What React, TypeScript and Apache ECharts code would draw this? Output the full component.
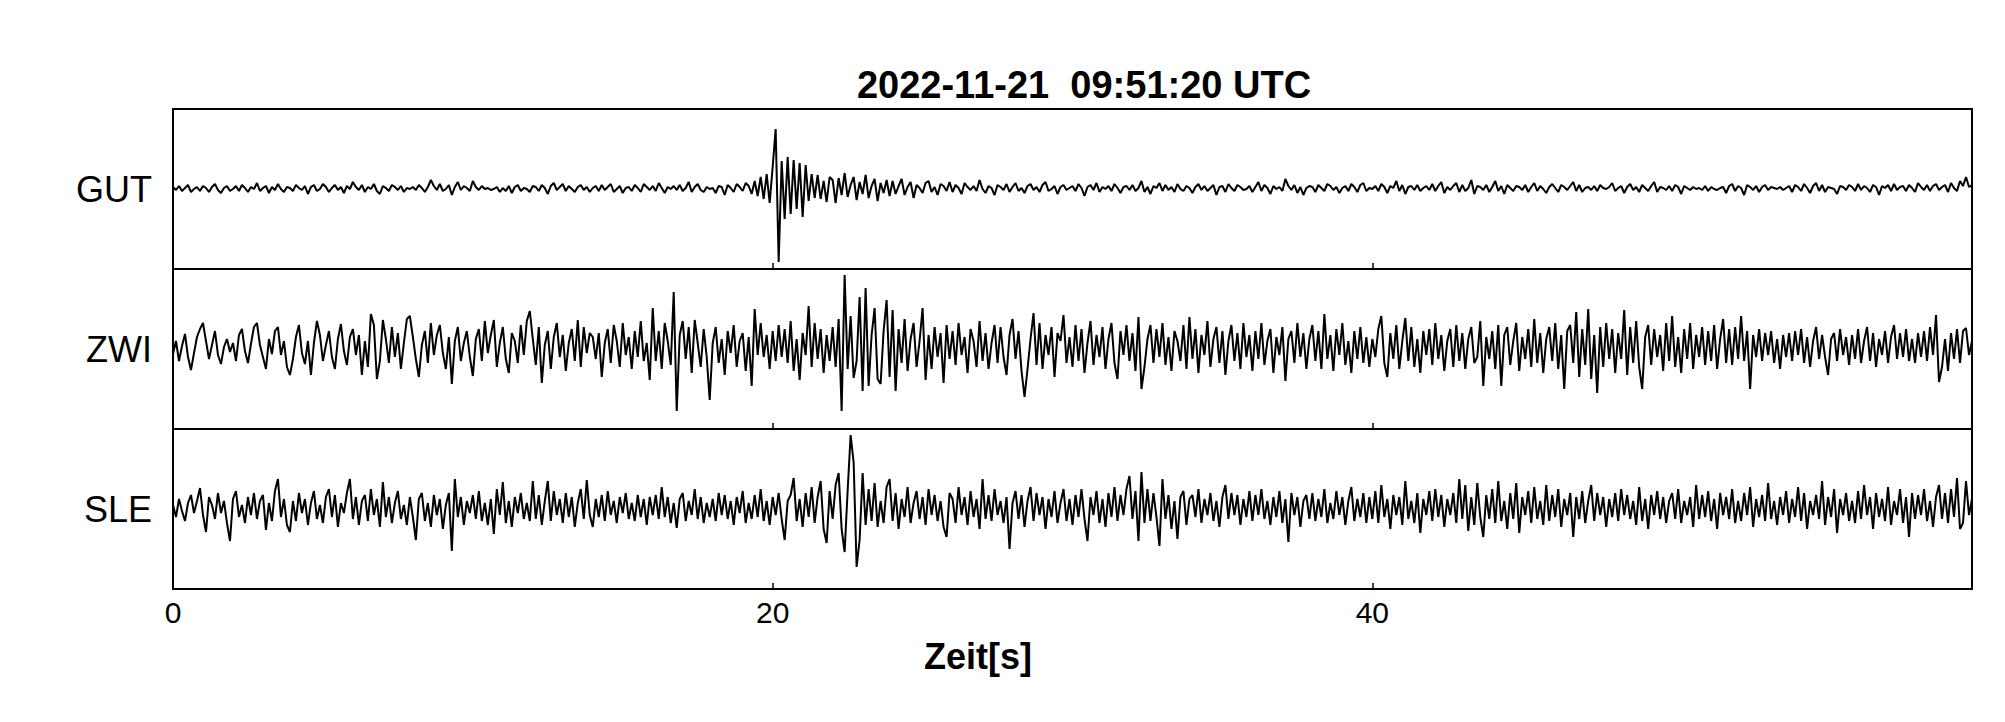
import React, { useEffect, useRef } from "react";
import * as echarts from "echarts";

const SAMPLES_PER_SECOND = 10;
const STATIONS = ["GUT", "ZWI", "SLE"];
const X_TICK_LABELS = [0, 20, 40];
const TITLE = "2022-11-21  09:51:20 UTC";
const X_LABEL = "Zeit[s]";

const GUT = [
  2,-1,3,-2,1,4,-3,0,2,-2,3,1,-3,2,5,-1,-4,1,3,-2,
  0,3,-2,4,1,-3,2,0,6,-2,1,3,-4,2,-1,5,0,-3,2,1,
  -2,4,1,-1,3,-5,2,4,-2,0,5,2,-3,1,4,-1,2,-4,3,0,
  7,2,-1,4,-3,2,0,5,-2,-5,3,1,-2,4,2,-1,3,-3,1,0,
  2,-1,4,1,-3,2,9,3,-1,5,-2,0,4,-6,2,7,-1,3,1,-2,
  8,2,-1,3,0,1,-1,0,2,-3,1,-2,3,-4,2,4,-2,1,0,-3,
  3,2,-2,4,1,-5,3,6,-1,2,5,-2,3,0,-3,2,4,-1,2,-3,
  1,3,-2,4,-1,2,5,-3,0,3,-4,1,2,-2,4,1,-3,5,2,-1,
  3,-2,6,1,-4,2,0,3,-1,4,-2,1,7,-3,2,5,-1,-3,2,0,
  1,-4,3,2,-6,4,1,-3,5,2,-2,6,3,-5,8,-7,12,-10,15,-14,
  22,60,-73,28,-30,32,-25,29,-20,26,-28,24,-12,15,-9,14,-10,8,-13,12,
  9,-14,11,-6,16,-8,4,12,-11,7,-5,14,-9,3,10,-12,6,-4,9,-7,
  8,-5,3,10,-6,2,7,-9,4,1,-4,6,8,-3,2,-6,5,3,-2,7,
  -3,4,1,-5,6,2,-1,3,-2,9,0,-4,3,1,-6,4,2,-1,5,-3,
  2,6,-2,1,-4,3,5,-1,2,-3,4,7,-2,0,3,-5,2,4,-1,1,
  3,-2,5,1,-7,2,4,-1,6,-3,2,0,3,-2,5,1,-4,2,3,-1,
  4,-2,1,8,-3,2,-5,3,1,6,-2,4,-1,2,-3,5,0,-2,3,1,
  -4,2,5,-1,3,-2,1,4,-6,2,3,-3,5,1,-2,4,2,-1,0,3,
  -3,2,7,-2,4,1,-5,3,0,2,-2,10,3,-1,4,-4,2,-6,1,3,
  2,-3,4,1,-2,5,3,-1,2,-4,1,3,-2,5,2,-3,4,6,-2,1,
  0,3,-2,5,2,-4,3,1,8,-2,4,-5,2,3,-1,4,-2,1,3,-1,
  5,-2,3,7,-4,2,-1,3,6,-3,4,-2,1,9,-5,3,2,-1,4,-3,
  2,8,-2,3,-5,4,1,-2,3,2,-1,4,-3,2,6,-2,3,0,-4,2,
  5,1,-3,4,2,-1,3,7,-2,4,-3,1,2,-1,3,-2,4,1,0,2,
  6,-2,1,3,-4,2,5,-1,2,-3,4,1,-2,3,7,-3,2,1,-1,3,
  -2,4,2,-5,3,1,-1,2,0,1,-1,3,-2,2,0,-1,1,2,-4,3,
  5,-2,3,1,-6,4,2,-1,3,-3,2,4,-1,2,1,0,2,-1,1,3,
  -3,4,2,-2,5,1,-4,3,6,-2,4,-3,2,1,0,-5,3,2,-1,4,
  2,-2,5,-1,3,1,-3,4,2,-6,3,1,4,-2,5,-1,2,3,-2,4,
  1,-3,6,2,-1,4,-2,3,5,-1,2,4,-3,6,1,-2,8,3,12,2,
  4,
];

const ZWI = [
  -5,8,-12,3,15,-8,-21,-4,12,20,26,8,-10,4,18,-6,-15,2,10,-3,
  6,-12,14,20,-2,-14,5,22,26,4,-8,-20,10,-5,18,22,-6,8,-18,-26,
  -10,12,24,-4,-15,8,-26,6,28,14,-12,4,18,-8,-20,10,25,-2,-16,12,
  20,-6,14,-26,8,-18,35,24,-30,-12,29,10,-14,22,-8,16,-20,6,30,33,
  12,-10,-28,4,18,-14,26,-6,14,24,-4,-20,12,-35,8,22,-12,6,18,-8,
  -27,10,20,-12,28,-4,14,29,-18,6,22,-10,-24,16,8,-14,24,-6,28,38,
  10,-16,22,-34,4,18,-20,12,26,-8,14,-22,6,20,-12,29,-18,22,-4,16,
  12,-10,16,-28,6,20,-14,24,8,-18,26,-6,12,-20,18,-8,28,-12,6,-31,
  41,-12,18,-20,26,8,-16,57,-62,14,28,-10,22,-24,29,6,-18,20,-8,-51,
  6,22,-14,10,-26,18,-4,24,-18,8,16,-22,12,-37,40,-6,26,-8,14,-20,
  18,-12,24,-8,20,-14,28,-22,10,-31,16,-6,43,-18,26,-10,20,-24,14,-12,
  22,-18,30,-62,74,-20,33,-29,-12,52,-42,61,-37,14,41,-30,-35,18,49,-28,
  39,-42,20,-14,30,-22,10,26,-18,8,41,-31,14,-20,22,-8,16,-34,24,-10,
  18,-16,26,-6,12,-24,20,8,-18,28,-12,16,-20,6,24,-14,22,-8,-26,14,
  30,-10,18,-22,-48,-20,10,36,-16,26,-20,14,-6,22,-28,16,8,34,-14,12,
  -18,24,-12,20,-24,6,28,-16,14,-8,22,-20,10,26,-14,-30,18,-6,24,-12,
  16,-22,32,-40,-18,10,24,-14,20,-8,26,-16,12,-22,18,8,-12,24,-20,32,
  -10,20,-24,14,-6,28,-18,10,22,-14,18,-26,8,24,-12,16,-20,26,-8,14,
  -22,18,-10,26,-16,8,20,-24,12,-6,22,-32,10,18,-14,26,-8,16,-20,10,
  24,-12,18,-20,35,-10,14,-22,20,-6,26,-16,8,-24,18,-10,22,-14,12,-18,
  10,-8,20,33,-14,-28,16,-10,24,-20,8,31,-12,22,-18,10,-24,18,-6,20,
  -16,26,-10,14,-22,8,20,-18,24,-12,16,-20,10,22,-14,-8,28,-37,12,-10,
  18,-20,24,-37,14,22,-16,8,26,-22,12,-10,20,-18,30,-14,16,-24,10,22,
  -12,26,-20,14,-40,18,24,-14,37,-28,20,-16,40,-30,14,-44,22,-18,26,-10,
  20,-24,16,-10,39,-26,22,-14,28,-18,-40,12,24,-16,20,-8,14,-22,26,-12,
  33,-18,12,-24,20,-10,26,-20,14,-8,22,-16,18,-12,24,-20,10,30,-14,20,
  -16,22,-10,33,-12,18,-40,14,-8,20,-12,16,-6,18,-14,10,-20,14,-8,16,
  -12,18,-6,20,-14,12,-18,8,22,-10,14,-8,-26,10,16,-12,20,-6,12,-16,
  14,-10,20,-14,8,22,-12,16,-18,10,-6,18,-14,12,24,-10,16,-8,20,-12,
  10,-14,16,-8,18,-12,22,-6,34,-33,-18,10,-22,16,-10,20,-14,18,21,-6,
  8,
];

const SLE = [
  4,-8,10,-2,-12,6,14,-4,8,21,-6,-23,12,4,-10,16,-4,8,-14,-32,
  10,18,-8,4,-14,12,-6,16,-10,8,14,-21,6,-12,18,30,-8,10,-16,-23,
  8,-12,16,-4,10,-16,6,18,-10,4,-14,12,20,-8,14,-18,6,-4,16,30,
  -10,12,-16,8,14,-12,20,-6,10,-18,27,-8,12,-14,6,18,-10,4,-16,12,
  -8,-31,10,16,-12,6,-18,14,-6,10,-20,4,16,-42,30,-8,12,-16,8,-4,
  14,-10,18,-12,6,-16,10,-25,20,-6,27,-14,8,-18,12,-4,16,-10,6,-12,
  28,-10,14,-16,8,28,-12,18,-6,10,-14,16,-8,12,-18,6,20,-10,29,-6,
  -18,10,-8,14,-12,18,-6,8,-14,12,-4,16,-10,6,-12,14,-8,10,-16,12,
  -6,14,-10,22,-8,12,-14,6,-19,10,16,-12,8,-6,20,-10,12,-14,6,-8,
  10,-12,16,-6,14,-10,8,-16,12,-4,18,-14,6,-10,14,-8,20,-12,8,-16,
  12,-6,16,-10,-31,8,14,31,-12,10,-18,16,-8,22,-14,12,28,-20,-34,18,
  -10,24,36,-20,-43,18,74,47,-58,-31,36,-16,20,-12,26,-18,8,-14,22,30,
  -12,16,-20,10,-8,22,-14,6,18,-10,12,-16,20,-6,14,-12,8,-18,-28,16,
  10,-14,22,-6,12,-16,18,-8,10,-20,30,-10,14,-12,20,-6,8,-14,12,-40,
  6,18,-10,14,-18,8,22,-12,16,-6,12,-20,10,-8,18,-14,6,20,-12,10,
  -16,14,-8,20,-10,-32,12,-6,18,-14,10,-18,16,-8,22,-12,14,-6,20,33,
  -10,18,-32,37,-14,20,-12,16,-8,-37,30,-10,14,-20,8,-30,12,18,-16,10,
  14,-8,20,-14,10,-6,16,-12,8,-18,12,24,-10,16,-6,14,-16,10,-8,18,
  -12,14,-6,20,-10,8,-16,12,-8,18,-14,10,-33,16,-6,12,-18,8,14,-10,
  16,-12,10,-8,20,-14,6,-10,18,-6,12,-16,8,22,-12,10,-8,16,-14,12,
  -10,18,-14,24,-8,10,-20,14,-6,12,-16,28,-10,8,-14,16,-24,10,-6,18,
  -12,20,-8,14,-18,10,-6,16,-14,30,-10,24,-22,12,-16,26,-8,-28,14,-10,
  20,-14,28,-12,8,-20,16,-10,26,-24,12,-6,18,-14,22,-10,8,-16,24,-12,
  14,-8,20,-18,10,-6,16,-28,12,-10,18,-14,8,24,-12,16,-6,12,-18,10,
  -8,16,-12,20,-6,14,-10,8,-16,22,-12,10,-20,14,-6,18,-10,12,-14,8,
  16,-10,20,-14,8,-6,12,-18,24,-10,14,-8,18,-12,10,-20,16,-6,12,-10,
  20,-14,8,-12,16,-6,22,-18,10,-8,14,-12,26,-10,8,-16,12,-6,18,-14,
  10,-8,22,-12,16,-20,8,-6,14,-10,28,-16,12,-8,20,-24,10,-6,16,-12,
  8,-14,18,-10,24,-6,12,-20,16,-8,10,-12,22,-16,8,-6,20,-14,12,-28,
  16,-10,14,-6,20,-12,8,-18,12,24,-10,16,-14,20,-8,31,-20,-14,28,-6,
  10,
];

const FONT = "'Liberation Sans', Arial, Helvetica, sans-serif";

export default function App() {
  const ref = useRef<HTMLDivElement>(null);

  useEffect(() => {
    document.body.style.margin = "0";
    if (!ref.current) return;
    const chart = echarts.init(ref.current, null, { renderer: "svg" });

    const traces = [GUT, ZWI, SLE];
    const left = 173;
    const width = 1799;
    const top0 = 109;
    const panelH = 160;

    const grid = traces.map((_, i) => ({
      left,
      top: top0 + i * panelH,
      width,
      height: panelH,
      show: true,
      borderColor: "#000",
      borderWidth: 2,
      backgroundColor: "transparent",
    }));

    const xAxis = traces.map((_, i) => ({
      type: "value",
      gridIndex: i,
      min: 0,
      max: 60,
      interval: 20,
      axisLine: { show: true, onZero: false, lineStyle: { color: "#000", width: 2 } },
      axisTick: { show: true, inside: true, length: 6, lineStyle: { color: "#000", width: 1.5 } },
      axisLabel: {
        show: i === traces.length - 1,
        color: "#000",
        fontSize: 30,
        fontFamily: FONT,
        margin: 8,
        formatter: (v: number) => (X_TICK_LABELS.includes(v) ? String(v) : ""),
      },
      splitLine: { show: false },
    }));

    const yAxis = traces.map((_, i) => ({
      type: "value",
      gridIndex: i,
      min: -80,
      max: 80,
      show: false,
      axisLine: { show: false, onZero: false },
      splitLine: { show: false },
    }));

    const series = traces.map((vals, i) => ({
      type: "line",
      name: STATIONS[i],
      xAxisIndex: i,
      yAxisIndex: i,
      data: vals.map((v, k) => [k / SAMPLES_PER_SECOND, v]),
      showSymbol: false,
      symbol: "none",
      clip: true,
      silent: true,
      lineStyle: { color: "#000", width: 2 },
    }));

    const graphic: any[] = [
      {
        type: "text",
        x: 1084,
        y: 85,
        style: {
          text: TITLE,
          fill: "#000",
          font: `bold 38px ${FONT}`,
          textAlign: "center",
          textVerticalAlign: "middle",
        },
      },
      {
        type: "text",
        x: 978,
        y: 656,
        style: {
          text: X_LABEL,
          fill: "#000",
          font: `bold 36px ${FONT}`,
          textAlign: "center",
          textVerticalAlign: "middle",
        },
      },
      ...STATIONS.map((s, i) => ({
        type: "text",
        x: 152,
        y: top0 + i * panelH + panelH / 2,
        style: {
          text: s,
          fill: "#000",
          font: `36px ${FONT}`,
          textAlign: "right",
          textVerticalAlign: "middle",
        },
      })),
    ];

    chart.setOption({
      animation: false,
      backgroundColor: "#fff",
      grid,
      xAxis,
      yAxis,
      series,
      graphic,
    });

    return () => chart.dispose();
  }, []);

  return <div ref={ref} style={{ width: 2005, height: 722 }} />;
}
